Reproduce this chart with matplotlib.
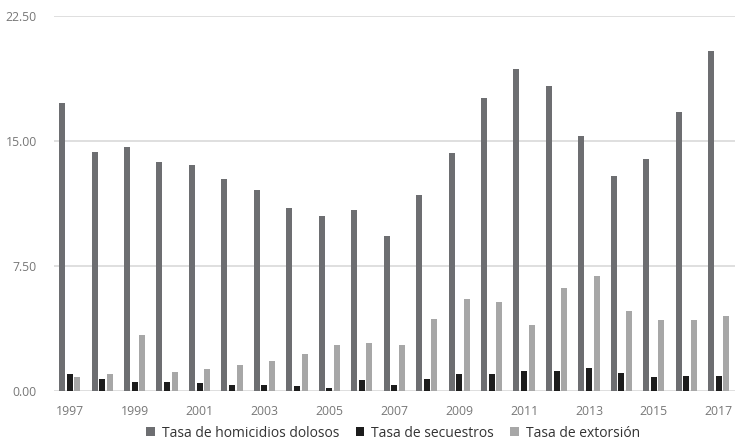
import matplotlib
matplotlib.use("Agg")
import matplotlib.pyplot as plt
import numpy as np

years = list(range(1997, 2018))
homicidios = [17.3, 14.36, 14.64, 13.72, 13.54, 12.7, 12.06, 10.96, 10.5, 10.86,
              9.3, 11.78, 14.26, 17.58, 19.32, 18.3, 15.28, 12.9, 13.9, 16.76, 20.42]
secuestros = [1.02, 0.74, 0.56, 0.56, 0.46, 0.38, 0.38, 0.28, 0.2, 0.66,
              0.38, 0.74, 1.0, 1.0, 1.22, 1.2, 1.4, 1.1, 0.84, 0.92, 0.92]
extorsion = [0.84, 1.02, 3.34, 1.12, 1.3, 1.58, 1.78, 2.22, 2.78, 2.86,
             2.78, 4.34, 5.54, 5.34, 3.96, 6.18, 6.92, 4.78, 4.24, 4.24, 4.52]
series_names = ["Tasa de homicidios dolosos", "Tasa de secuestros", "Tasa de extorsión"]
yticks = [0.0, 7.5, 15.0, 22.5]

plt.rcParams['font.family'] = ['Open Sans', 'DejaVu Sans']

fig = plt.figure(figsize=(7.35, 4.44), dpi=100)
ax = fig.add_axes([53.5/735, 1-391/444, 1-53.5/735, (391-16)/444])

x = np.arange(len(years))
w = 0.185
off = 0.235
colors = ["#6d6e71", "#1c1c1c", "#a7a7a7"]
ax.bar(x - off, homicidios, w, color=colors[0], label=series_names[0], zorder=3)
ax.bar(x, secuestros, w, color=colors[1], label=series_names[1], zorder=3)
ax.bar(x + off, extorsion, w, color=colors[2], label=series_names[2], zorder=3)

ax.set_xlim(-0.5, len(years) - 0.5)
ax.set_ylim(0, 22.5)
ax.set_yticks(yticks)
ax.set_yticklabels([f"{v:.2f}" for v in yticks])
ax.set_xticks(x[::2])
ax.set_xticklabels([str(y) for y in years[::2]])
ax.grid(axis='y', color="#d9d9d9", linewidth=1.2, zorder=0)
ax.set_axisbelow(True)
for s in ax.spines.values():
    s.set_visible(False)
ax.tick_params(axis='both', length=0, labelsize=8.8, labelcolor="#777777")
ax.tick_params(axis='y', pad=12)
ax.tick_params(axis='x', pad=10)

fig.legend(loc='center', bbox_to_anchor=(393/735, 1-433/444), ncol=3, frameon=False,
           fontsize=10, handlelength=0.6, handleheight=0.6, handletextpad=0.5,
           columnspacing=1.2, labelcolor="#333333")

fig.savefig("out.png", dpi=100)
